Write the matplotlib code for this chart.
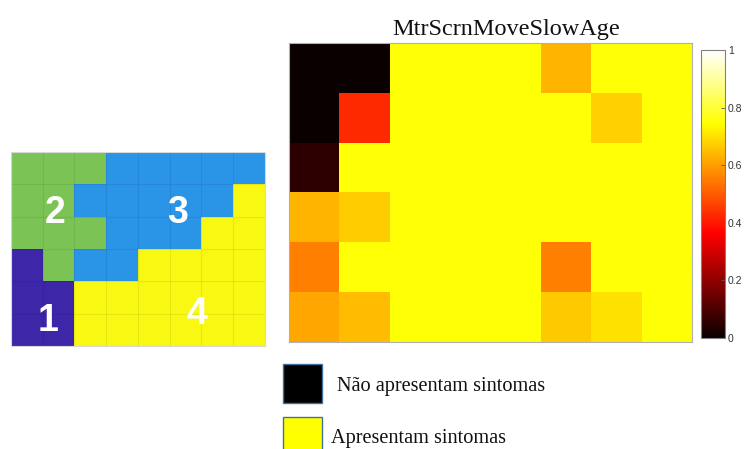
import numpy as np
import matplotlib
matplotlib.use("Agg")
import matplotlib.pyplot as plt
from matplotlib.colors import ListedColormap, BoundaryNorm
from matplotlib.patches import Rectangle

# ---------------- data ----------------
# Left grid: region id per cell (rows top->bottom)
region_grid = [
    [2, 2, 2, 3, 3, 3, 3, 3],
    [2, 2, 3, 3, 3, 3, 3, 4],
    [2, 2, 2, 3, 3, 3, 4, 4],
    [1, 2, 3, 3, 4, 4, 4, 4],
    [1, 1, 4, 4, 4, 4, 4, 4],
    [1, 1, 4, 4, 4, 4, 4, 4],
]
region_labels = ["1", "2", "3", "4"]
region_colors = ["#3E26A8", "#7CC356", "#2A94E6", "#F8F813"]

# Right heatmap values (hot colormap, 0..1)
heat_values = [
    [0.00, 0.00, 0.75, 0.75, 0.75, 0.634, 0.75, 0.75],
    [0.00, 0.428, 0.75, 0.75, 0.75, 0.75, 0.679, 0.75],
    [0.051, 0.75, 0.75, 0.75, 0.75, 0.75, 0.75, 0.75],
    [0.634, 0.670, 0.75, 0.75, 0.75, 0.75, 0.75, 0.75],
    [0.555, 0.75, 0.75, 0.75, 0.75, 0.555, 0.75, 0.75],
    [0.616, 0.646, 0.75, 0.75, 0.75, 0.666, 0.700, 0.75],
]
title_text = "MtrScrnMoveSlowAge"
cbar_ticks = [0, 0.2, 0.4, 0.6, 0.8, 1]
cbar_ticklabels = ["0", "0.2", "0.4", "0.6", "0.8", "1"]
legend_labels = ["Não apresentam sintomas", "Apresentam sintomas"]
legend_colors = ["#000000", "#FFFF00"]

# ---------------- figure ----------------
W, H = 744, 449
fig = plt.figure(figsize=(W / 100, H / 100), dpi=100)
fig.patch.set_facecolor("white")


def ax_px(x0, y0, x1, y1):
    return [x0 / W, 1 - y1 / H, (x1 - x0) / W, (y1 - y0) / H]


# Left grid
axl = fig.add_axes(ax_px(11, 152, 265, 346))
grid = np.array(region_grid)
cmap_r = ListedColormap(region_colors)
norm_r = BoundaryNorm([0.5, 1.5, 2.5, 3.5, 4.5], cmap_r.N)
axl.imshow(grid, cmap=cmap_r, norm=norm_r, aspect="auto", interpolation="nearest")
nr, nc = grid.shape
for i in range(1, nc):
    axl.axvline(i - 0.5, color="black", alpha=0.07, lw=0.8)
for j in range(1, nr):
    axl.axhline(j - 0.5, color="black", alpha=0.07, lw=0.8)
label_pos = {"1": (0.67, 4.72), "2": (0.89, 1.38), "3": (4.76, 1.38), "4": (5.36, 4.50)}
for lab in region_labels:
    x, y = label_pos[lab]
    axl.text(x, y, lab, color="white", fontsize=27, fontweight="bold",
             ha="center", va="center", family="Liberation Sans")
axl.set_xticks([])
axl.set_yticks([])
for s in axl.spines.values():
    s.set_color("#d8d8d8")
    s.set_linewidth(0.8)

# Right heatmap
axh = fig.add_axes(ax_px(289, 43, 692, 342))
hv = np.array(heat_values)
im = axh.imshow(hv, cmap="hot", vmin=0, vmax=1, aspect="auto", interpolation="nearest")
axh.set_xticks([])
axh.set_yticks([])
for s in axh.spines.values():
    s.set_color("#b0b0b0")
    s.set_linewidth(0.8)
fig.text(506 / W, 1 - 35 / H, title_text, fontsize=17.5, family="Liberation Serif",
         color="#111111", ha="center", va="baseline")

# Colorbar
cax = fig.add_axes(ax_px(701, 50, 725, 338))
cb = fig.colorbar(im, cax=cax, ticks=cbar_ticks)
cb.ax.set_yticklabels(cbar_ticklabels)
cb.ax.tick_params(direction="in", length=3, width=0.6, colors="#555555",
                  labelsize=7.5, labelcolor="#333333", pad=2)
cb.outline.set_edgecolor("#808080")
cb.outline.set_linewidth(0.8)
for t in cb.ax.get_yticklabels():
    t.set_family("Liberation Sans")

# Legend boxes
boxes = [(283, 364, 322, 403), (283, 417, 322, 456)]
text_pos = [(337, 386), (331, 439)]
for (x0, y0, x1, y1), col, lab, (tx, ty) in zip(boxes, legend_colors, legend_labels, text_pos):
    r = Rectangle((x0 / W, 1 - y1 / H), (x1 - x0) / W, (y1 - y0) / H,
                  transform=fig.transFigure, facecolor=col, edgecolor="#41719C",
                  linewidth=1.0, clip_on=False)
    fig.patches.append(r)
    fig.text(tx / W, 1 - ty / H, lab, fontsize=14.6, family="Liberation Serif",
             color="#111111", ha="left", va="center")

fig.savefig("out.png", dpi=100)
